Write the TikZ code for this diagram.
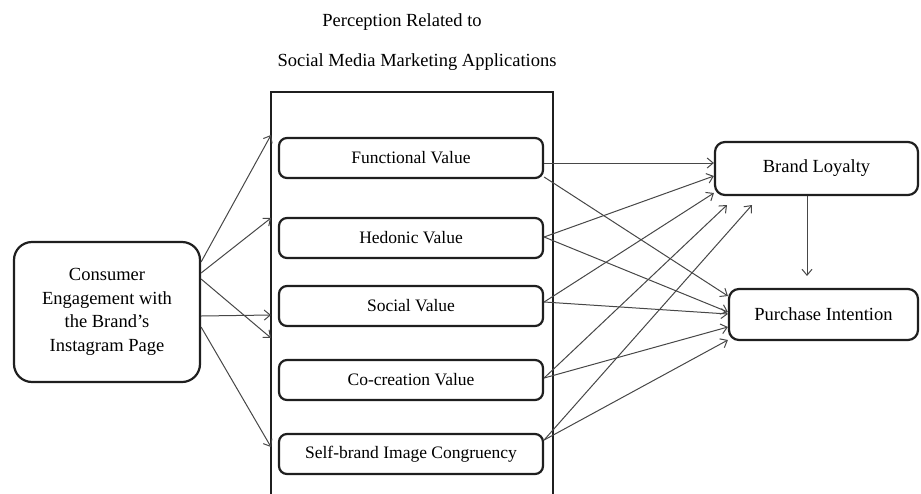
\documentclass[tikz,border=0pt]{standalone}
\usepackage{fontspec}
\setmainfont{Liberation Serif}
\usetikzlibrary{arrows.meta,calc}
\begin{document}
\begin{tikzpicture}[x=1pt,y=-1pt,
  box/.style={draw=black!88, line width=2.2pt, rounded corners=8pt, align=center, inner sep=0pt},
  valbox/.style={box, minimum width=264pt, minimum height=40pt, font=\fontsize{17.5}{21}\selectfont},
  outbox/.style={box, rounded corners=10pt, font=\fontsize{18.5}{23}\selectfont},
  link/.style={draw=black!72, line width=1pt, -{Straight Barb[length=6pt,width=10pt]}},
  caption/.style={font=\fontsize{18.5}{23}\selectfont, inner sep=0pt}]

\useasboundingbox (0,0) rectangle (921,493);
\clip (0,0) rectangle (921,493);

% heading above the frame
\node[caption] (head1) at (402,22) {Perception Related to};
\node[caption] (head2) at (417,62) {Social Media Marketing Applications};

% open frame around the five values
\draw[line width=1.6pt, draw=black!88] (271,500) -- (271,92) -- (553,92) -- (553,500);

% independent variable
\node[box, rounded corners=18pt, minimum width=186pt, minimum height=140pt,
      font=\fontsize{18.5}{23.5}\selectfont] (ce) at (107,312)
      {Consumer\\Engagement with\\the Brand’s\\Instagram Page};

% perceived values
\node[valbox] (fv) at (411,158) {Functional Value};
\node[valbox] (hv) at (411,238) {Hedonic Value};
\node[valbox] (sv) at (411,306) {Social Value};
\node[valbox] (cv) at (411,380) {Co-creation Value};
\node[valbox] (sb) at (411,454) {Self-brand Image Congruency};

% outcomes
\node[outbox, minimum width=203pt, minimum height=53pt] (bl) at (816.5,168.5) {Brand Loyalty};
\node[outbox, minimum width=189pt, minimum height=51pt] (pi) at (823.5,314.5) {Purchase Intention};

% arrow ends on the frame's left side
\coordinate (f1) at (271,135);
\coordinate (f2) at (271,218);
\coordinate (f3) at (271,338);
\coordinate (f4) at (271,315);
\coordinate (f5) at (271,447);

\draw[link] ($(ce.east)+(0,-50)$) -- (f1);
\draw[link] ($(ce.east)+(0,-39)$) -- (f2);
\draw[link] ($(ce.east)+(0,-33)$) -- (f3);
\draw[link] ($(ce.east)+(0,4)$) -- (f4);
\draw[link] ($(ce.east)+(0,15)$) -- (f5);

% arrow ends just under Brand Loyalty
\coordinate (b4) at (727,205);
\coordinate (b5) at (752,205);

% values -> brand loyalty
\draw[link] ($(fv.east)+(0,5)$) -- ($(bl.west)+(0,-5.5)$);
\draw[link] ($(hv.east)+(0,-1)$) -- ($(bl.west)+(0,7.5)$);
\draw[link] ($(sv.east)+(0,-4)$) -- ($(bl.west)+(0,24.5)$);
\draw[link] ($(cv.east)+(0,-2)$) -- (b4);
\draw[link] ($(sb.east)+(0,-14)$) -- (b5);

% values -> purchase intention
\draw[link] ($(fv.east)+(0,19)$) -- ($(pi.west)+(0,-18.5)$);
\draw[link] ($(hv.east)+(0,-1)$) -- ($(pi.west)+(0,-2.5)$);
\draw[link] ($(sv.east)+(0,-4)$) -- ($(pi.west)+(0,-0.5)$);
\draw[link] ($(cv.east)+(0,-2)$) -- ($(pi.west)+(0,12.5)$);
\draw[link] ($(sb.east)+(0,-14)$) -- ($(pi.west)+(0,25.5)$);

% brand loyalty -> purchase intention
\coordinate (pt) at (807,276);
\draw[link] (bl.south -| pt) -- (pt);

\end{tikzpicture}
\end{document}
